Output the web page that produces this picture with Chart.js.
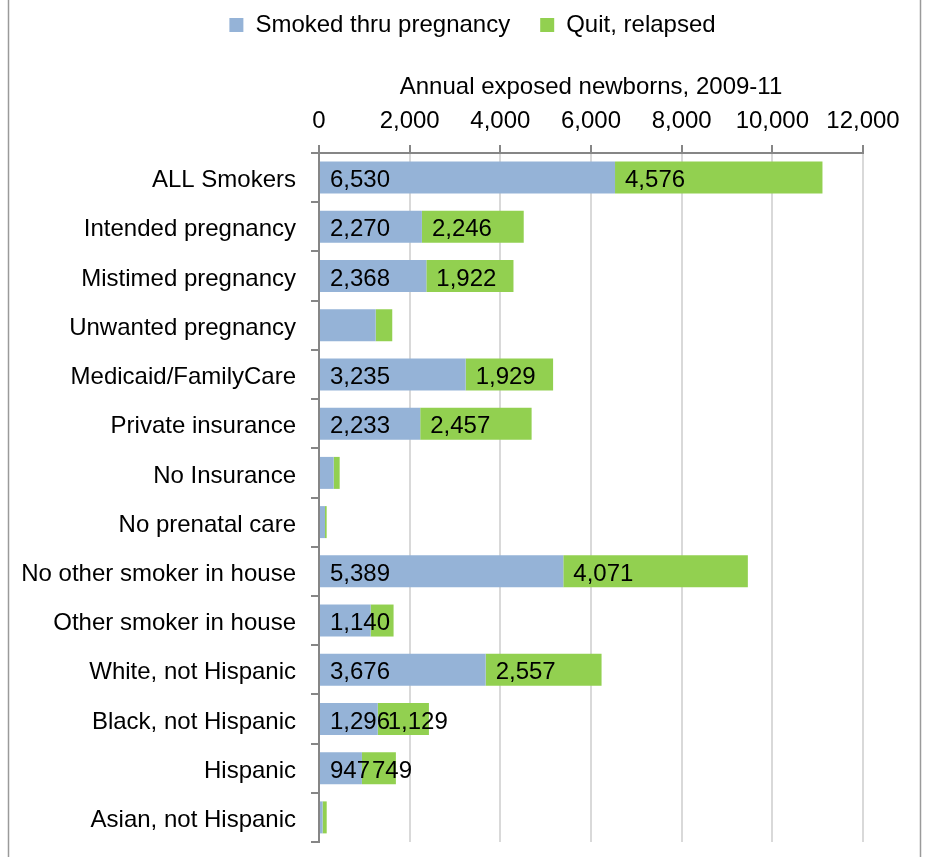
<!DOCTYPE html>
<html>
<head>
<meta charset="utf-8">
<title>Annual exposed newborns, 2009-11</title>
<script src="https://cdn.jsdelivr.net/npm/chart.js@4/dist/chart.umd.min.js"></script>
<style>
  html, body { margin: 0; padding: 0; background: #ffffff; }
  canvas { display: block; }
</style>
</head>
<body>
<canvas id="chart" width="925" height="857"></canvas>
<script>
// Groups of smokers (one bar each)
const categories = [
  'ALL Smokers',
  'Intended pregnancy',
  'Mistimed pregnancy',
  'Unwanted pregnancy',
  'Medicaid/FamilyCare',
  'Private insurance',
  'No Insurance',
  'No prenatal care',
  'No other smoker in house',
  'Other smoker in house',
  'White, not Hispanic',
  'Black, not Hispanic',
  'Hispanic',
  'Asian, not Hispanic'
];

// Annual exposed newborns per group
const smokedThruPregnancy = [6530, 2270, 2368, 1250, 3235, 2233, 324, 132, 5389, 1140, 3676, 1296, 947, 80];
const quitRelapsed        = [4576, 2246, 1922, 366, 1929, 2457, 132, 37, 4071, 505, 2557, 1129, 749, 90];

// Which segments carry a value label
const smokedLabelled = [true, true, true, false, true, true, false, false, true, true, true, true, true, false];
const quitLabelled   = [true, true, true, false, true, true, false, false, true, false, true, true, true, false];

// Value axis range
const axisMin = 0;
const axisMax = 12000;
const axisStep = 2000;

const FONT = "'Liberation Sans', Arial, sans-serif";
const AXIS_GREY = '#868686';
const GRID_GREY = '#D9D9D9';

// Legend sits centred over the whole frame rather than the padded plot box
const LEGEND_SHIFT = 36;

// White background plus the thin outer frame lines
const framePlugin = {
  id: 'frame',
  afterLayout(chart) {
    const lg = chart.legend;
    if (lg) { lg.left += LEGEND_SHIFT; lg.right += LEGEND_SHIFT; }
  },
  beforeDraw(chart) {
    const { ctx, width, height } = chart;
    ctx.save();
    ctx.fillStyle = '#ffffff';
    ctx.fillRect(0, 0, width, height);
    ctx.strokeStyle = '#9a9a9a';
    ctx.lineWidth = 1.5;
    ctx.beginPath();
    ctx.moveTo(8.5, 0); ctx.lineTo(8.5, height);
    ctx.moveTo(920.5, 0); ctx.lineTo(920.5, height);
    ctx.stroke();
    ctx.restore();
  }
};

// Value labels placed inside the base of each segment
const labelFlags = [smokedLabelled, quitLabelled];
const valueLabelPlugin = {
  id: 'valueLabels',
  afterDatasetsDraw(chart) {
    const { ctx } = chart;
    ctx.save();
    ctx.font = '24px ' + FONT;
    ctx.fillStyle = '#000000';
    ctx.textAlign = 'left';
    ctx.textBaseline = 'middle';
    chart.data.datasets.forEach((ds, d) => {
      const meta = chart.getDatasetMeta(d);
      meta.data.forEach((bar, i) => {
        if (!labelFlags[d][i]) return;
        const p = bar.getProps(['x', 'base', 'y'], true);
        const start = Math.min(p.x, p.base);
        ctx.fillText(ds.data[i].toLocaleString('en-US'), start + 10, p.y + 3);
      });
    });
    ctx.restore();
  }
};

new Chart(document.getElementById('chart'), {
  type: 'bar',
  data: {
    labels: categories,
    datasets: [
      {
        label: 'Smoked thru pregnancy',
        data: smokedThruPregnancy,
        backgroundColor: '#95B3D7',
        borderWidth: 0,
        categoryPercentage: 0.65,
        barPercentage: 1.0
      },
      {
        label: 'Quit, relapsed',
        data: quitRelapsed,
        backgroundColor: '#92D050',
        borderWidth: 0,
        categoryPercentage: 0.65,
        barPercentage: 1.0
      }
    ]
  },
  options: {
    indexAxis: 'y',
    responsive: false,
    animation: false,
    devicePixelRatio: 1,
    layout: {
      padding: { top: -17, left: 10, right: 62, bottom: 15 }
    },
    plugins: {
      legend: {
        position: 'top',
        labels: {
          boxWidth: 14,
          boxHeight: 14,
          padding: 30,
          color: '#000000',
          font: { family: FONT, size: 24 }
        }
      },
      tooltip: { enabled: false }
    },
    scales: {
      x: {
        position: 'top',
        stacked: true,
        min: axisMin,
        max: axisMax,
        ticks: {
          stepSize: axisStep,
          padding: 9,
          color: '#000000',
          font: { family: FONT, size: 24 },
          maxRotation: 0,
          autoSkip: false
        },
        grid: {
          color: (c) => (c.index === 0 ? AXIS_GREY : GRID_GREY),
          lineWidth: 2,
          tickColor: AXIS_GREY,
          tickLength: 8
        },
        border: { color: AXIS_GREY, width: 2 },
        title: {
          display: true,
          text: 'Annual exposed newborns, 2009-11',
          color: '#000000',
          font: { family: FONT, size: 24 },
          padding: { top: 26, bottom: 0 }
        },
        afterFit(scale) { scale.height = 106; }
      },
      y: {
        stacked: true,
        ticks: {
          padding: 15,
          labelOffset: 3,
          color: '#000000',
          font: { family: FONT, size: 24 }
        },
        grid: {
          offset: true,
          drawOnChartArea: false,
          drawTicks: true,
          tickLength: 8,
          tickColor: AXIS_GREY,
          lineWidth: 2
        },
        border: { color: AXIS_GREY, width: 2 },
        afterFit(scale) {
          scale.width = 309;
          scale.paddingTop = 0;
          scale.paddingBottom = 0;
        }
      }
    }
  },
  plugins: [framePlugin, valueLabelPlugin]
});
</script>
</body>
</html>
